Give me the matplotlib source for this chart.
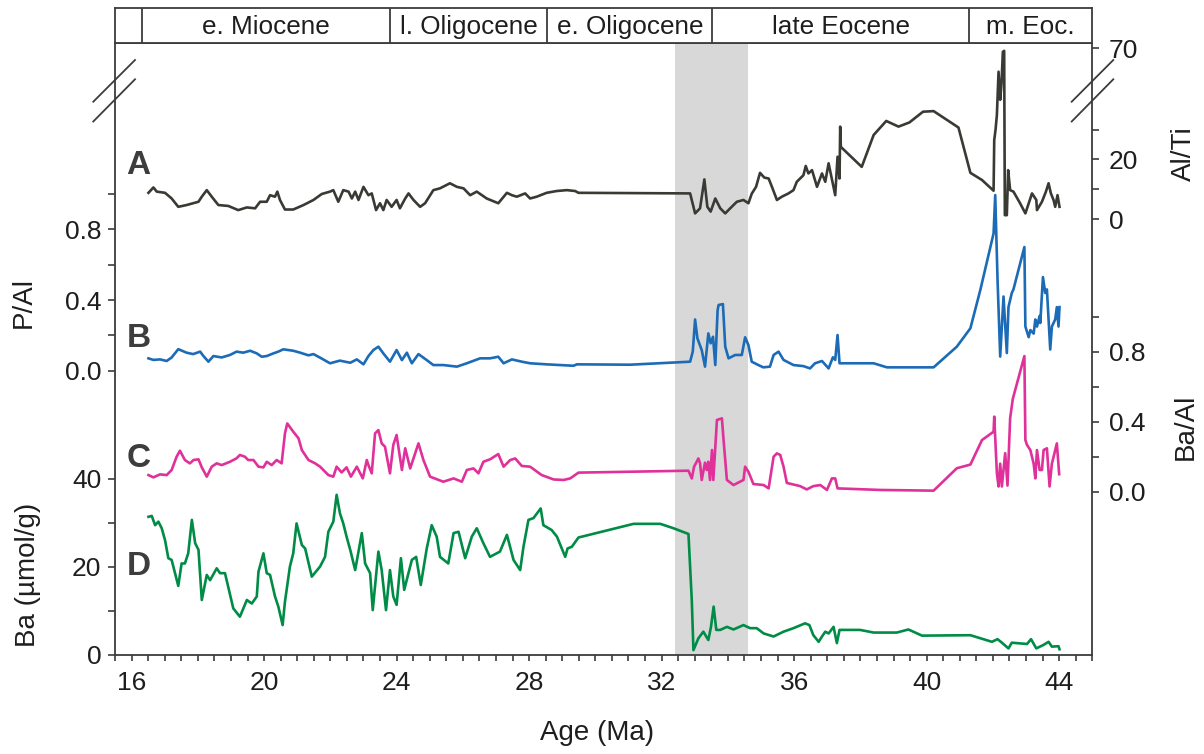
import numpy as np
import matplotlib; matplotlib.use('Agg')
import matplotlib.pyplot as plt
from matplotlib.lines import Line2D
from matplotlib.ticker import MultipleLocator

plt.rcParams['font.family'] = ['Liberation Sans', 'DejaVu Sans']

# ---- data ----
epoch_edges = [15.5, 16.3, 23.8, 28.55, 33.53, 41.28, 45.0]
epoch_names = ["", "e. Miocene", "l. Oligocene", "e. Oligocene", "late Eocene", "m. Eoc."]
shade_span = [32.4, 34.6]

# A: Al/Ti
a_age = [16.51, 16.66, 16.76, 17.01, 17.21, 17.41, 17.66, 18.02, 18.12, 18.27, 18.42, 18.62,
         18.92, 19.22, 19.48, 19.73, 19.88, 20.08, 20.18, 20.33, 20.40, 20.48, 20.63, 20.88,
         21.19, 21.49, 21.74, 21.99, 22.09, 22.24, 22.39, 22.55, 22.65, 22.75, 22.85, 23.00,
         23.15, 23.25, 23.38, 23.50, 23.60, 23.70, 23.85, 24.00, 24.10, 24.26, 24.36, 24.51,
         24.71, 24.86, 25.11, 25.31, 25.61, 25.82, 26.02, 26.22, 26.42, 26.72, 27.07, 27.33,
         27.48, 27.63, 27.88, 28.03, 28.23, 28.53, 28.83, 29.14, 29.39, 29.49, 32.86, 33.01,
         33.16, 33.29, 33.38, 33.48, 33.62, 33.77, 33.92, 34.07, 34.27, 34.47, 34.62, 34.72,
         34.85, 34.97, 35.10, 35.23, 35.33, 35.48, 35.63, 35.83, 35.98, 36.08, 36.28, 36.35,
         36.43, 36.54, 36.69, 36.84, 36.94, 37.04, 37.24, 37.31, 37.37, 37.39, 37.41, 38.04,
         38.40, 38.78, 39.15, 39.48, 39.89, 40.21, 40.96, 41.32, 41.67, 42.02, 42.04, 42.08,
         42.12, 42.17, 42.22, 42.26, 42.30, 42.34, 42.36, 42.42, 42.46, 42.52, 42.62, 42.82,
         42.98, 43.08, 43.18, 43.31, 43.33, 43.48, 43.60, 43.68, 43.75, 43.83, 43.88, 43.95,
         44.01]
a_val = [8.8, 10.6, 9.2, 8.8, 6.9, 4.1, 4.7, 5.8, 7.5, 9.7, 7.5, 4.7,
         4.4, 3.0, 3.9, 3.6, 5.8, 5.8, 8.0, 7.5, 9.2, 6.4, 3.2, 3.2,
         4.7, 6.4, 8.4, 9.2, 9.7, 5.8, 9.7, 9.2, 6.9, 9.2, 6.4, 10.8,
         8.0, 8.6, 3.0, 5.3, 3.0, 6.4, 4.1, 6.4, 3.6, 6.9, 8.6, 6.4,
         4.1, 5.3, 9.7, 10.3, 12.0, 10.8, 10.3, 8.0, 9.2, 6.9, 5.3, 8.8,
         8.0, 7.5, 8.6, 6.9, 7.5, 8.8, 9.4, 9.7, 9.4, 8.8, 8.6, 1.9,
         3.6, 13.3, 4.1, 2.5, 6.9, 3.6, 1.9, 3.6, 5.8, 6.4, 5.3, 8.5,
         10.8, 15.5, 13.9, 13.6, 10.8, 6.4, 7.5, 8.6, 9.7, 12.5, 14.7, 17.8,
         15.3, 16.4, 10.8, 15.3, 12.5, 18.7, 8.0, 20.9, 13.6, 31.0, 24.2, 17.5,
         28.2, 32.9, 31.0, 32.4, 36.0, 36.2, 30.7, 15.5, 13.1, 9.5, 26.5, 30.0,
         34.9, 56.4, 40.0, 49.6, 68.0, 68.6, 1.3, 1.3, 16.4, 9.7, 9.2, 5.3,
         1.9, 5.3, 8.6, 6.4, 3.0, 5.8, 9.2, 12.0, 8.6, 6.4, 4.1, 8.0,
         4.1]

# B: P/Al
b_age = [16.51, 16.66, 16.86, 17.06, 17.21, 17.41, 17.66, 17.86, 18.07, 18.17, 18.32, 18.47,
         18.72, 18.97, 19.17, 19.37, 19.58, 19.78, 19.93, 20.08, 20.28, 20.43, 20.58, 20.88,
         21.09, 21.34, 21.49, 21.69, 21.99, 22.29, 22.60, 22.80, 23.00, 23.15, 23.30, 23.45,
         23.60, 23.80, 24.00, 24.16, 24.31, 24.46, 24.66, 24.91, 25.11, 25.41, 25.82, 26.12,
         26.52, 26.82, 27.07, 27.23, 27.48, 27.78, 28.03, 28.53, 29.34, 29.44, 31.05, 32.86,
         32.94, 33.01, 33.08, 33.21, 33.31, 33.41, 33.48, 33.55, 33.62, 33.69, 33.72, 33.85,
         33.92, 34.02, 34.22, 34.42, 34.52, 34.62, 34.72, 34.92, 35.07, 35.27, 35.38, 35.53,
         35.68, 35.98, 36.28, 36.48, 36.63, 36.84, 37.04, 37.17, 37.24, 37.31, 37.37, 38.40,
         38.80, 40.21, 40.91, 41.32, 41.62, 42.02, 42.07, 42.14, 42.22, 42.32, 42.42, 42.47,
         42.57, 42.62, 42.95, 42.98, 43.08, 43.13, 43.23, 43.28, 43.33, 43.41, 43.43, 43.51,
         43.58, 43.63, 43.73, 43.78, 43.88, 43.93, 43.98, 44.01]
b_val = [0.070, 0.061, 0.064, 0.055, 0.075, 0.122, 0.102, 0.094, 0.108, 0.083, 0.051, 0.083,
         0.075, 0.089, 0.108, 0.102, 0.113, 0.098, 0.079, 0.083, 0.098, 0.108, 0.121, 0.113,
         0.102, 0.087, 0.094, 0.074, 0.042, 0.057, 0.045, 0.064, 0.036, 0.083, 0.117, 0.136,
         0.098, 0.051, 0.117, 0.060, 0.102, 0.042, 0.094, 0.060, 0.032, 0.032, 0.023, 0.042,
         0.070, 0.070, 0.079, 0.042, 0.064, 0.051, 0.042, 0.036, 0.028, 0.036, 0.034, 0.051,
         0.108, 0.290, 0.183, 0.117, 0.023, 0.211, 0.155, 0.192, 0.032, 0.343, 0.372, 0.377,
         0.136, 0.070, 0.089, 0.089, 0.189, 0.145, 0.051, 0.032, 0.019, 0.023, 0.089, 0.108,
         0.061, 0.032, 0.026, 0.013, 0.042, 0.055, 0.013, 0.076, 0.061, 0.202, 0.042, 0.042,
         0.019, 0.019, 0.136, 0.240, 0.457, 0.777, 0.994, 0.513, 0.080, 0.420, 0.100, 0.360,
         0.440, 0.460, 0.700, 0.250, 0.190, 0.230, 0.210, 0.290, 0.250, 0.310, 0.270, 0.530,
         0.440, 0.460, 0.120, 0.250, 0.290, 0.360, 0.250, 0.360]

# C: Ba/Al
c_age = [16.51, 16.66, 16.86, 17.06, 17.21, 17.36, 17.46, 17.61, 17.76, 17.87, 18.02, 18.12,
         18.27, 18.42, 18.57, 18.72, 18.97, 19.17, 19.27, 19.42, 19.52, 19.68, 19.83, 19.98,
         20.08, 20.23, 20.38, 20.53, 20.63, 20.70, 20.88, 21.04, 21.14, 21.34, 21.54, 21.69,
         21.94, 22.09, 22.19, 22.34, 22.49, 22.62, 22.80, 22.98, 23.10, 23.15, 23.25, 23.35,
         23.45, 23.55, 23.65, 23.80, 23.90, 24.00, 24.16, 24.26, 24.41, 24.66, 24.81, 25.01,
         25.41, 25.72, 25.97, 26.12, 26.32, 26.47, 26.62, 26.82, 27.07, 27.23, 27.43, 27.58,
         27.78, 28.03, 28.38, 28.74, 29.04, 29.24, 29.49, 32.81, 32.91, 32.98, 33.11, 33.16,
         33.21, 33.31, 33.36, 33.41, 33.46, 33.52, 33.56, 33.67, 33.82, 33.87, 33.97, 34.17,
         34.47, 34.52, 34.62, 34.77, 35.08, 35.23, 35.38, 35.48, 35.58, 35.68, 35.78, 36.18,
         36.38, 36.58, 36.79, 36.99, 37.14, 37.24, 37.31, 38.60, 40.21, 40.91, 41.32, 41.67,
         42.02, 42.04, 42.12, 42.17, 42.22, 42.27, 42.37, 42.44, 42.52, 42.60, 42.95, 42.98,
         43.03, 43.13, 43.23, 43.28, 43.33, 43.41, 43.48, 43.53, 43.63, 43.71, 43.78, 43.88,
         43.93, 44.00]
c_val = [0.095, 0.082, 0.099, 0.095, 0.124, 0.200, 0.234, 0.181, 0.162, 0.181, 0.185, 0.139,
         0.086, 0.143, 0.162, 0.152, 0.171, 0.191, 0.210, 0.200, 0.181, 0.181, 0.143, 0.139,
         0.171, 0.152, 0.181, 0.162, 0.333, 0.390, 0.343, 0.305, 0.238, 0.181, 0.162, 0.143,
         0.095, 0.086, 0.143, 0.110, 0.139, 0.086, 0.143, 0.076, 0.181, 0.152, 0.105, 0.333,
         0.352, 0.276, 0.257, 0.105, 0.267, 0.324, 0.124, 0.248, 0.133, 0.276, 0.181, 0.086,
         0.057, 0.076, 0.057, 0.124, 0.133, 0.105, 0.171, 0.185, 0.215, 0.143, 0.181, 0.190,
         0.147, 0.143, 0.095, 0.070, 0.067, 0.076, 0.109, 0.120, 0.076, 0.143, 0.190, 0.162,
         0.067, 0.166, 0.124, 0.171, 0.067, 0.238, 0.067, 0.410, 0.419, 0.295, 0.067, 0.038,
         0.067, 0.143, 0.114, 0.044, 0.038, 0.019, 0.200, 0.219, 0.210, 0.143, 0.050, 0.032,
         0.013, 0.032, 0.038, 0.010, 0.076, 0.076, 0.019, 0.010, 0.006, 0.134, 0.155, 0.295,
         0.343, 0.429, 0.105, 0.030, 0.160, 0.030, 0.220, 0.035, 0.420, 0.530, 0.775, 0.295,
         0.267, 0.238, 0.160, 0.076, 0.238, 0.124, 0.124, 0.238, 0.248, 0.030, 0.160, 0.238,
         0.276, 0.100]

# D: Ba (umol/g)
d_age = [16.51, 16.61, 16.71, 16.81, 16.91, 17.01, 17.11, 17.21, 17.31, 17.41, 17.51, 17.61,
         17.71, 17.82, 17.92, 18.02, 18.12, 18.27, 18.37, 18.57, 18.67, 18.82, 19.07, 19.27,
         19.48, 19.63, 19.78, 19.83, 19.98, 20.08, 20.18, 20.33, 20.43, 20.56, 20.63, 20.78,
         20.88, 20.98, 21.14, 21.24, 21.44, 21.69, 21.84, 21.94, 22.09, 22.19, 22.29, 22.39,
         22.49, 22.60, 22.75, 22.95, 23.05, 23.20, 23.28, 23.45, 23.55, 23.68, 23.80, 23.90,
         24.00, 24.13, 24.23, 24.36, 24.46, 24.59, 24.73, 24.91, 25.06, 25.21, 25.31, 25.56,
         25.72, 25.87, 26.07, 26.27, 26.42, 26.62, 26.82, 27.12, 27.33, 27.53, 27.73, 27.83,
         27.98, 28.13, 28.35, 28.43, 28.68, 28.84, 29.09, 29.16, 29.29, 29.49, 31.15, 31.96,
         32.36, 32.81, 32.91, 32.96, 33.11, 33.26, 33.41, 33.49, 33.57, 33.65, 33.77, 33.97,
         34.17, 34.47, 34.67, 34.87, 35.08, 35.38, 35.68, 35.98, 36.33, 36.46, 36.58, 36.74,
         36.84, 36.94, 37.04, 37.19, 37.29, 37.37, 37.99, 38.40, 39.10, 39.45, 39.86, 41.32,
         41.97, 42.14, 42.27, 42.47, 42.57, 43.03, 43.15, 43.31, 43.53, 43.68, 43.78, 43.98,
         44.01]
d_val = [31.4, 31.6, 29.5, 30.3, 28.8, 26.1, 22.0, 21.6, 18.6, 15.7, 20.8, 20.8,
         23.1, 30.7, 25.4, 23.9, 12.5, 18.2, 17.0, 19.7, 18.6, 18.6, 10.6, 8.7,
         12.5, 11.7, 13.3, 18.9, 23.1, 18.6, 18.2, 13.3, 11.0, 6.8, 12.1, 20.1,
         23.1, 29.9, 25.0, 24.2, 17.8, 20.1, 22.3, 28.0, 30.3, 36.4, 32.2, 29.9,
         26.9, 23.9, 19.3, 27.7, 20.8, 18.6, 10.2, 23.5, 19.3, 10.2, 19.3, 13.3,
         11.4, 22.0, 14.8, 18.6, 21.6, 22.3, 15.9, 24.2, 29.5, 26.9, 22.3, 20.8,
         27.7, 28.0, 22.0, 26.9, 28.8, 25.4, 22.3, 23.5, 27.3, 21.6, 19.3, 24.6,
         30.7, 31.1, 33.3, 29.5, 28.4, 26.9, 22.3, 24.2, 24.6, 26.7, 29.8, 29.8,
         28.8, 27.5, 12.5, 1.1, 3.8, 5.3, 3.4, 6.4, 11.0, 5.7, 5.7, 6.4,
         5.8, 6.8, 6.1, 6.1, 4.9, 4.2, 5.3, 6.1, 7.2, 6.8, 4.5, 3.0,
         4.2, 5.3, 4.9, 6.4, 2.7, 5.7, 5.7, 5.1, 5.1, 5.8, 4.4, 4.5,
         3.0, 3.6, 2.8, 1.5, 2.8, 2.5, 3.6, 1.5, 2.3, 3.0, 1.9, 2.0,
         1.3]

# ---- style ----
INK = '#1e1e1e'; SPINE = '#3c3c3c'
COL_A, COL_B, COL_C, COL_D = '#3a3a35', '#1c6bb7', '#e0309a', '#008c46'
TICK_FS, LAB_FS = 19, 20
LW = 1.9

# broken Al/Ti axis: linear up to 40, compressed above
BRK, K = 40.0, 0.574
def fwd(v):
    v = np.asarray(v, float); return np.where(v > BRK, BRK + (v - BRK) * K, v)
def inv(d):
    d = np.asarray(d, float); return np.where(d > BRK, BRK + (d - BRK) / K, d)

W_PX, H_PX = 1204, 754
fig = plt.figure(figsize=(W_PX / 100, H_PX / 100), dpi=100)
L, R, T, Bt = 115, 1092.3, 43.3, 655
rect = [L / W_PX, 1 - Bt / H_PX, (R - L) / W_PX, (Bt - T) / H_PX]

ax = fig.add_axes(rect)                        # D: Ba (left, bottom)
ax.set_xlim(15.5, 45.0)
ax.axvspan(*shade_span, color='#d8d8d8', lw=0, zorder=0)
ax.plot(d_age, d_val, color=COL_D, lw=LW, zorder=3)
ax.set_ylim(0, 139.0)
ax.set_yticks([0, 10, 20, 30, 40], ['0', '', '20', '', '40'])
ax.set_xticks(np.arange(16, 45, 4))
ax.xaxis.set_minor_locator(MultipleLocator(0.5))
for s in ax.spines.values():
    s.set_color(SPINE); s.set_linewidth(1.3)
ax.tick_params(axis='x', which='both', direction='out', length=4.2, width=1.2,
               color=SPINE, labelsize=TICK_FS, labelcolor=INK, pad=7.5)
ax.tick_params(axis='y', direction='out', length=4.8, width=1.2, color=SPINE,
               labelsize=TICK_FS, labelcolor=INK, pad=5)
ax.set_xlabel('Age (Ma)', fontsize=LAB_FS, color=INK, va='center')
ax.xaxis.set_label_coords(0.4932, -0.1275)
ax.set_ylabel('Ba (µmol/g)', fontsize=LAB_FS, color=INK, va='center', ha='center')
ax.yaxis.set_label_coords(-0.0895, 0.131)

def overlay(side):
    t = ax.twinx()
    for s in t.spines.values():
        s.set_visible(False)
    if side == 'left':
        t.yaxis.tick_left(); t.yaxis.set_label_position('left')
    t.tick_params(axis='y', direction='out', length=4.8, width=1.2, color=SPINE,
                  labelsize=TICK_FS, labelcolor=INK, pad=5 if side == 'left' else 7)
    return t

# B: P/Al (left)
axb = overlay('left')
axb.plot(b_age, b_val, color=COL_B, lw=LW)
axb.set_ylim(-1.609, 1.853)
axb.set_yticks([0.0, 0.2, 0.4, 0.6, 0.8, 1.0], ['0.0', '', '0.4', '', '0.8', ''])
axb.set_ylabel('P/Al', fontsize=LAB_FS, color=INK, va='center', ha='center')
axb.yaxis.set_label_coords(-0.0931, 0.5755)

# A: Al/Ti (right, broken)
axa = overlay('right')
axa.set_yscale('function', functions=(fwd, inv))
axa.plot(a_age, a_val, color=COL_A, lw=LW)
axa.set_ylim(-146.2, 73.0)
axa.set_yticks([0, 10, 20, 30, 70], ['0', '', '20', '', '70'])
axa.yaxis.set_minor_locator(plt.NullLocator())
axa.set_ylabel('Al/Ti', fontsize=LAB_FS, color=INK, va='center', ha='center', rotation=90)
axa.yaxis.set_label_coords(1.0938, 0.819)

# C: Ba/Al (right)
axc = overlay('right')
axc.plot(c_age, c_val, color=COL_C, lw=LW)
axc.set_ylim(-0.933, 2.562)
axc.set_yticks([0.0, 0.2, 0.4, 0.6, 0.8, 1.0], ['0.0', '', '0.4', '', '0.8', ''])
axc.set_ylabel('Ba/Al', fontsize=LAB_FS, color=INK, va='center', ha='center', rotation=90)
axc.yaxis.set_label_coords(1.0959, 0.3727)

# panel letters
for letter, yy in zip("ABCD", [0.801, 0.517, 0.322, 0.144]):
    ax.text(0.024, yy, letter, transform=ax.transAxes, fontsize=24, fontweight='bold',
            color='#3d3d3d', ha='center', va='center')

# epoch band on top
band = fig.add_axes([rect[0], 1 - T / H_PX, rect[2], (T - 8.3) / H_PX])
band.set_xlim(15.5, 45.0); band.set_ylim(0, 1)
band.set_xticks([]); band.set_yticks([])
for s in band.spines.values():
    s.set_color(SPINE); s.set_linewidth(1.3)
for e in epoch_edges[1:-1]:
    band.axvline(e, color=SPINE, lw=1.3)
for lo, hi, name in zip(epoch_edges[:-1], epoch_edges[1:], epoch_names):
    band.text((lo + hi) / 2, 0.47, name, ha='center', va='center', fontsize=18.8, color=INK)

# axis-break marks
def brk(x0, y0, x1, y1):
    fig.add_artist(Line2D([x0 / W_PX, x1 / W_PX], [1 - y0 / H_PX, 1 - y1 / H_PX],
                          transform=fig.transFigure, color=SPINE, lw=1.3))
for xa, xb in [(93.3, 135.0), (1071.7, 1113.3)]:
    brk(xa, 101.7, xb, 60.0)
    brk(xa, 121.5, xb, 79.3)

fig.savefig('out.png', dpi=100)
